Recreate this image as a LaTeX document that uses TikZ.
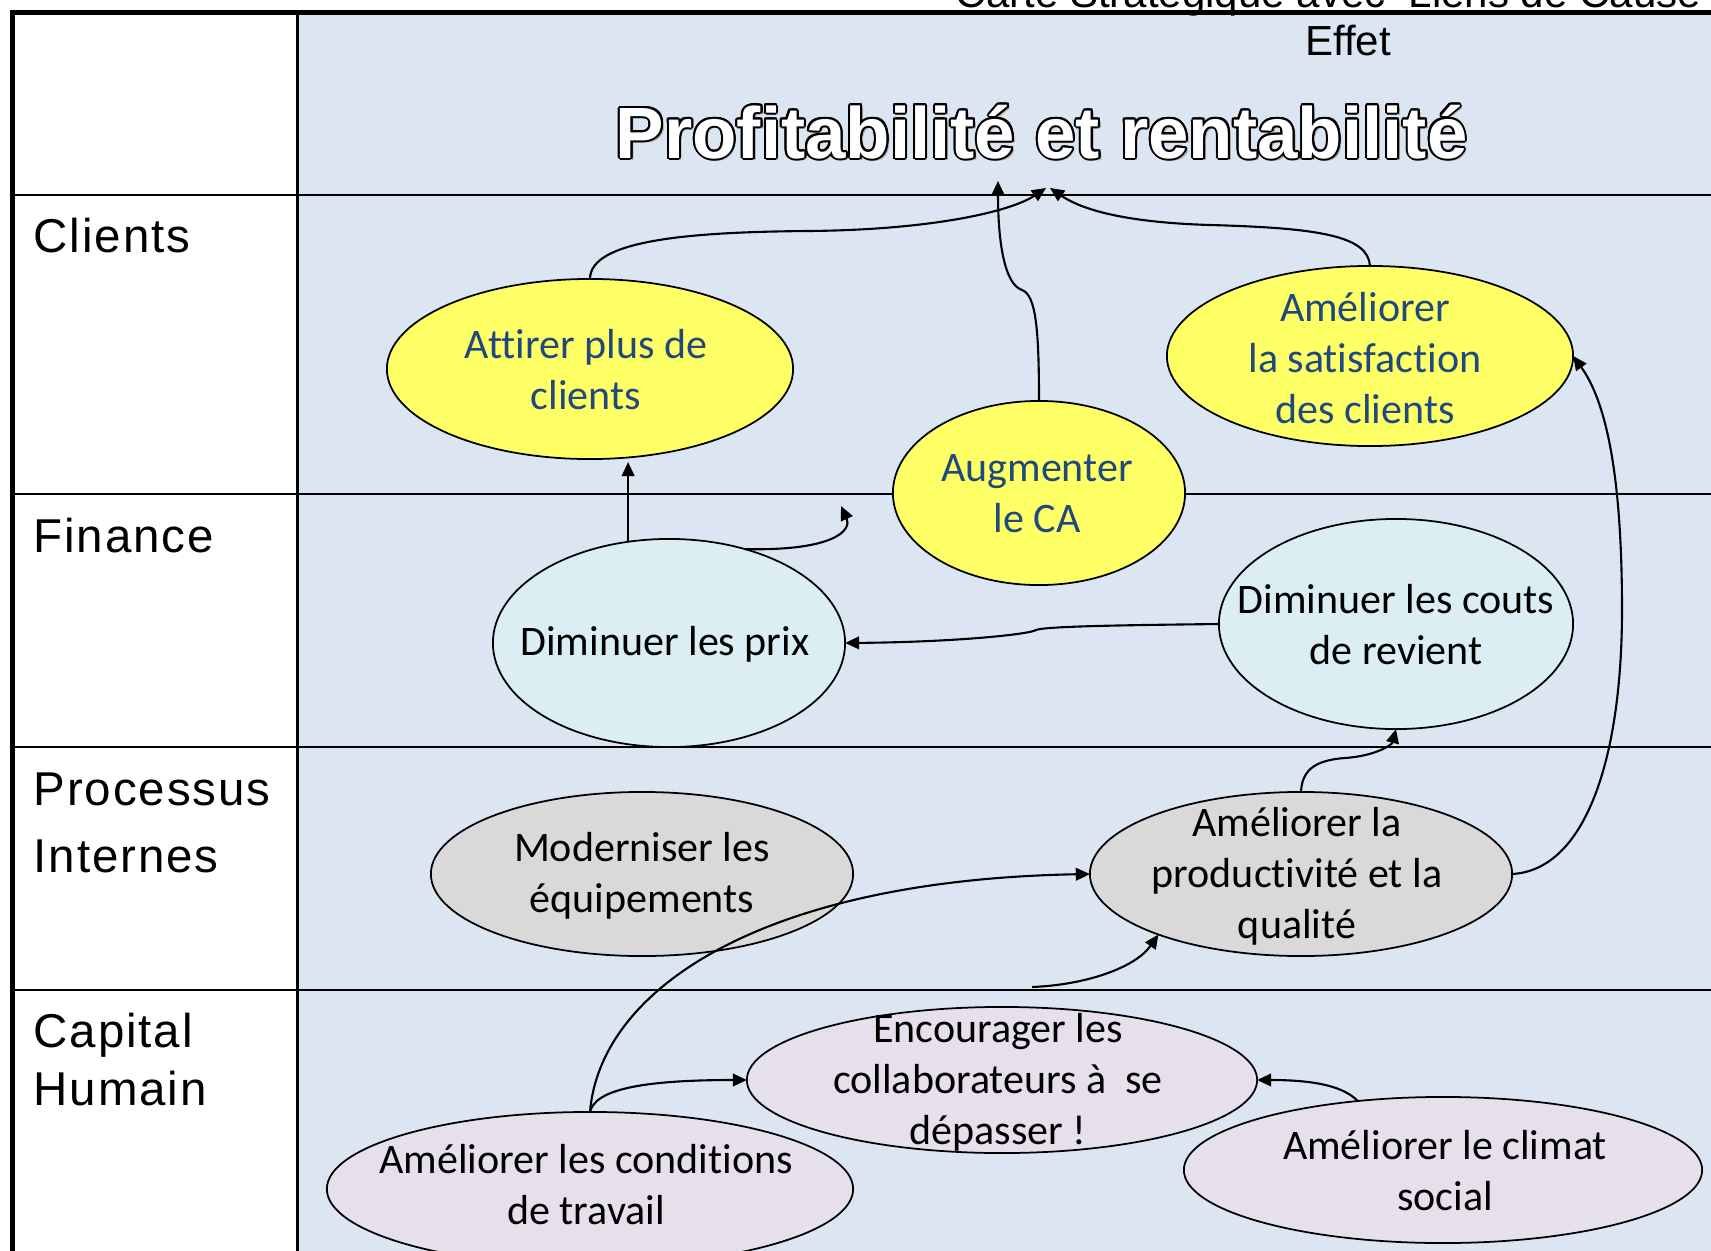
\documentclass[tikz,border=0pt]{standalone}
\usepackage{fontspec}
\setmainfont{Carlito}[Ligatures=NoCommon]
\newfontfamily\capfont{Liberation Sans}
\newfontfamily\rowfont[LetterSpace=4]{Liberation Sans}
\usetikzlibrary{arrows.meta,shapes.geometric,calc}

\definecolor{bandblue}{HTML}{DCE6F2}
\definecolor{goalyellow}{HTML}{FFFF66}
\definecolor{finblue}{HTML}{DAEEF3}
\definecolor{procgray}{HTML}{D9D9D9}
\definecolor{hrlilac}{HTML}{E6E0EC}
\definecolor{inkblue}{HTML}{1F497D}

\begin{document}
\begin{tikzpicture}[x=0.01cm,y=-0.01cm,
  goal/.style={ellipse, draw=black, line width=0.5pt, inner sep=0pt, outer sep=0pt},
  lbl/.style={align=center, inner sep=0pt, font=\fontsize{11.95}{14.5}\selectfont},
  rowlbl/.style={anchor=base west, inner sep=0pt, font=\rowfont\fontsize{13.5}{16}\selectfont},
  caption/.style={inner sep=0pt, font=\capfont\fontsize{11.95}{14}\selectfont},
  headline/.style={anchor=base west, inner sep=0pt, font=\capfont\bfseries\fontsize{20.66}{24}\selectfont},
  conn/.style={draw=black, line width=0.6pt, -{Triangle[length=4pt,width=3.6pt]}},
  rule/.style={line width=0.7pt},
]
\useasboundingbox (0,0) rectangle (1711,1251);

% backgrounds of the two columns
\fill[white] (0,0) rectangle (1711,1251);
\fill[bandblue] (297.5,12.5) rectangle (1711,1251);

% caption above the frame
\node[caption, anchor=base west] (cap1) at (955,7) {Carte Stratégique avec\ \ Liens de Cause};
\node[caption, anchor=base] (cap2) at (1348,55) {Effet};

% perspective rows
\draw[rule] (12.5,195) -- (1711,195);
\draw[rule] (12.5,494) -- (1711,494);
\draw[rule] (12.5,747) -- (1711,747);
\draw[rule] (12.5,990) -- (1711,990);
\draw[rule] (297.5,12.5) -- (297.5,1251);

% outer frame
\draw[line width=1.42pt, line join=miter] (12.5,1251) -- (12.5,12.5) -- (1711,12.5);

% row labels
\node[rowlbl] (rClients) at (33,252) {Clients};
\node[rowlbl] (rFinance) at (33,552) {Finance};
\node[rowlbl] (rProc1) at (33,805) {Processus};
\node[rowlbl] (rProc2) at (33,872) {Internes};
\node[rowlbl] (rCap1) at (33,1047) {Capital};
\node[rowlbl] (rCap2) at (33,1105) {Humain};

% outlined headline with a faint shadow
\node[headline, text=black!35] (ttl-shadow) at (617.5,160.5) {Profitabilité et rentabilité};
\foreach \a in {0,22.5,...,337.5}
  \node[headline, text=black] (ttl-\a) at ($(615,158)+(\a:2)$) {Profitabilité et rentabilité};
\node[headline, text=white] (ttl) at (615,158) {Profitabilité et rentabilité};

% objectives
\node[goal, fill=goalyellow, minimum width=4.06cm, minimum height=1.80cm] (att) at (590,369) {};
\node[goal, fill=goalyellow, minimum width=2.92cm, minimum height=1.84cm] (aug) at (1039,493) {};
\node[goal, fill=goalyellow, minimum width=4.06cm, minimum height=1.80cm] (sat) at (1370,356) {};
\node[goal, fill=finblue, minimum width=3.52cm, minimum height=2.08cm] (prix) at (669,643) {};
\node[goal, fill=finblue, minimum width=3.54cm, minimum height=2.10cm] (couts) at (1396,624) {};
\node[goal, fill=procgray, minimum width=4.22cm, minimum height=1.64cm] (mod) at (642,874) {};
\node[goal, fill=procgray, minimum width=4.22cm, minimum height=1.64cm] (prod) at (1301,874) {};
\node[goal, fill=hrlilac, minimum width=5.10cm, minimum height=1.46cm] (enc) at (1002,1080) {};
\node[goal, fill=hrlilac, minimum width=5.26cm, minimum height=1.54cm] (cond) at (590,1189) {};
\node[goal, fill=hrlilac, minimum width=5.18cm, minimum height=1.46cm] (clim) at (1443,1170) {};

% loose ends
\coordinate (tipL) at (1046,188);
\coordinate (tipR) at (1050,188);
\coordinate (tipV) at (998,181);
\coordinate (caEnd) at (841,506);
\coordinate (qStart) at (1032,987);
\coordinate (prixUp) at ($(prix.112 |- att.south)+(0,3)$);

% cause-effect links
\draw[conn] (att.north) .. controls (590,240) and (690,232) .. (808,231)
            .. controls (930,230) and (1010,212) .. (tipL);
\draw[conn] (aug.north) .. controls (1039,330) and (1036,295) .. (1022,290)
            .. controls (1004,284) and (998,240) .. (tipV);
\draw[conn] (sat.north) .. controls (1368,236) and (1320,228) .. (1210,225)
            .. controls (1110,222) and (1075,205) .. (tipR);
\draw[conn] (prix.112) -- (prixUp);
\draw[conn] (prix.51) .. controls (835,551) and (852,530) .. (caEnd);
\draw[conn] (couts.west) .. controls (1140,625) and (1045,626) .. (1036,630)
            .. controls (1030,634) and (960,642) .. (prix.east);
\draw[conn] (prod.north) .. controls (1302,768) and (1318,760) .. (1345,758)
            .. controls (1375,756) and (1392,745) .. (couts.south);
\draw[conn] (prod.east) .. controls (1585,870) and (1622,760) .. (1622,610)
            .. controls (1622,470) and (1605,400) .. (sat.east);
\draw[conn] (cond.north) .. controls (600,990) and (760,880) .. (prod.west);
\draw[conn] (cond.north) .. controls (595,1090) and (640,1080) .. (enc.west);
\draw[conn] (clim.141) .. controls (1345,1088) and (1320,1080) .. (enc.east);
\draw[conn] (qStart) .. controls (1085,985) and (1135,968) .. (prod.203);

% objective texts
\node[lbl, text=inkblue] (attT) at (586,370) {Attirer plus de\\clients};
\node[lbl, text=inkblue] (augT) at (1037,494) {Augmenter\\le CA};
\node[lbl, text=inkblue] (satT) at (1365,358) {Améliorer\\la satisfaction\\des clients};
\node[lbl] (prixT) at (665,644) {Diminuer les prix};
\node[lbl] (coutsT) at (1396,625) {Diminuer les couts\\de revient};
\node[lbl] (modT) at (642,876) {Moderniser les\\équipements};
\node[lbl] (prodT) at (1297,876) {Améliorer la\\productivité et la\\qualité};
\node[lbl] (encT) at (998,1082) {Encourager les\\collaborateurs à\ \ se\\dépasser !};
\node[lbl] (condT) at (586,1185) {Améliorer les conditions\\de travail};
\node[lbl] (climT) at (1445,1171) {Améliorer le climat\\social};
\end{tikzpicture}
\end{document}
